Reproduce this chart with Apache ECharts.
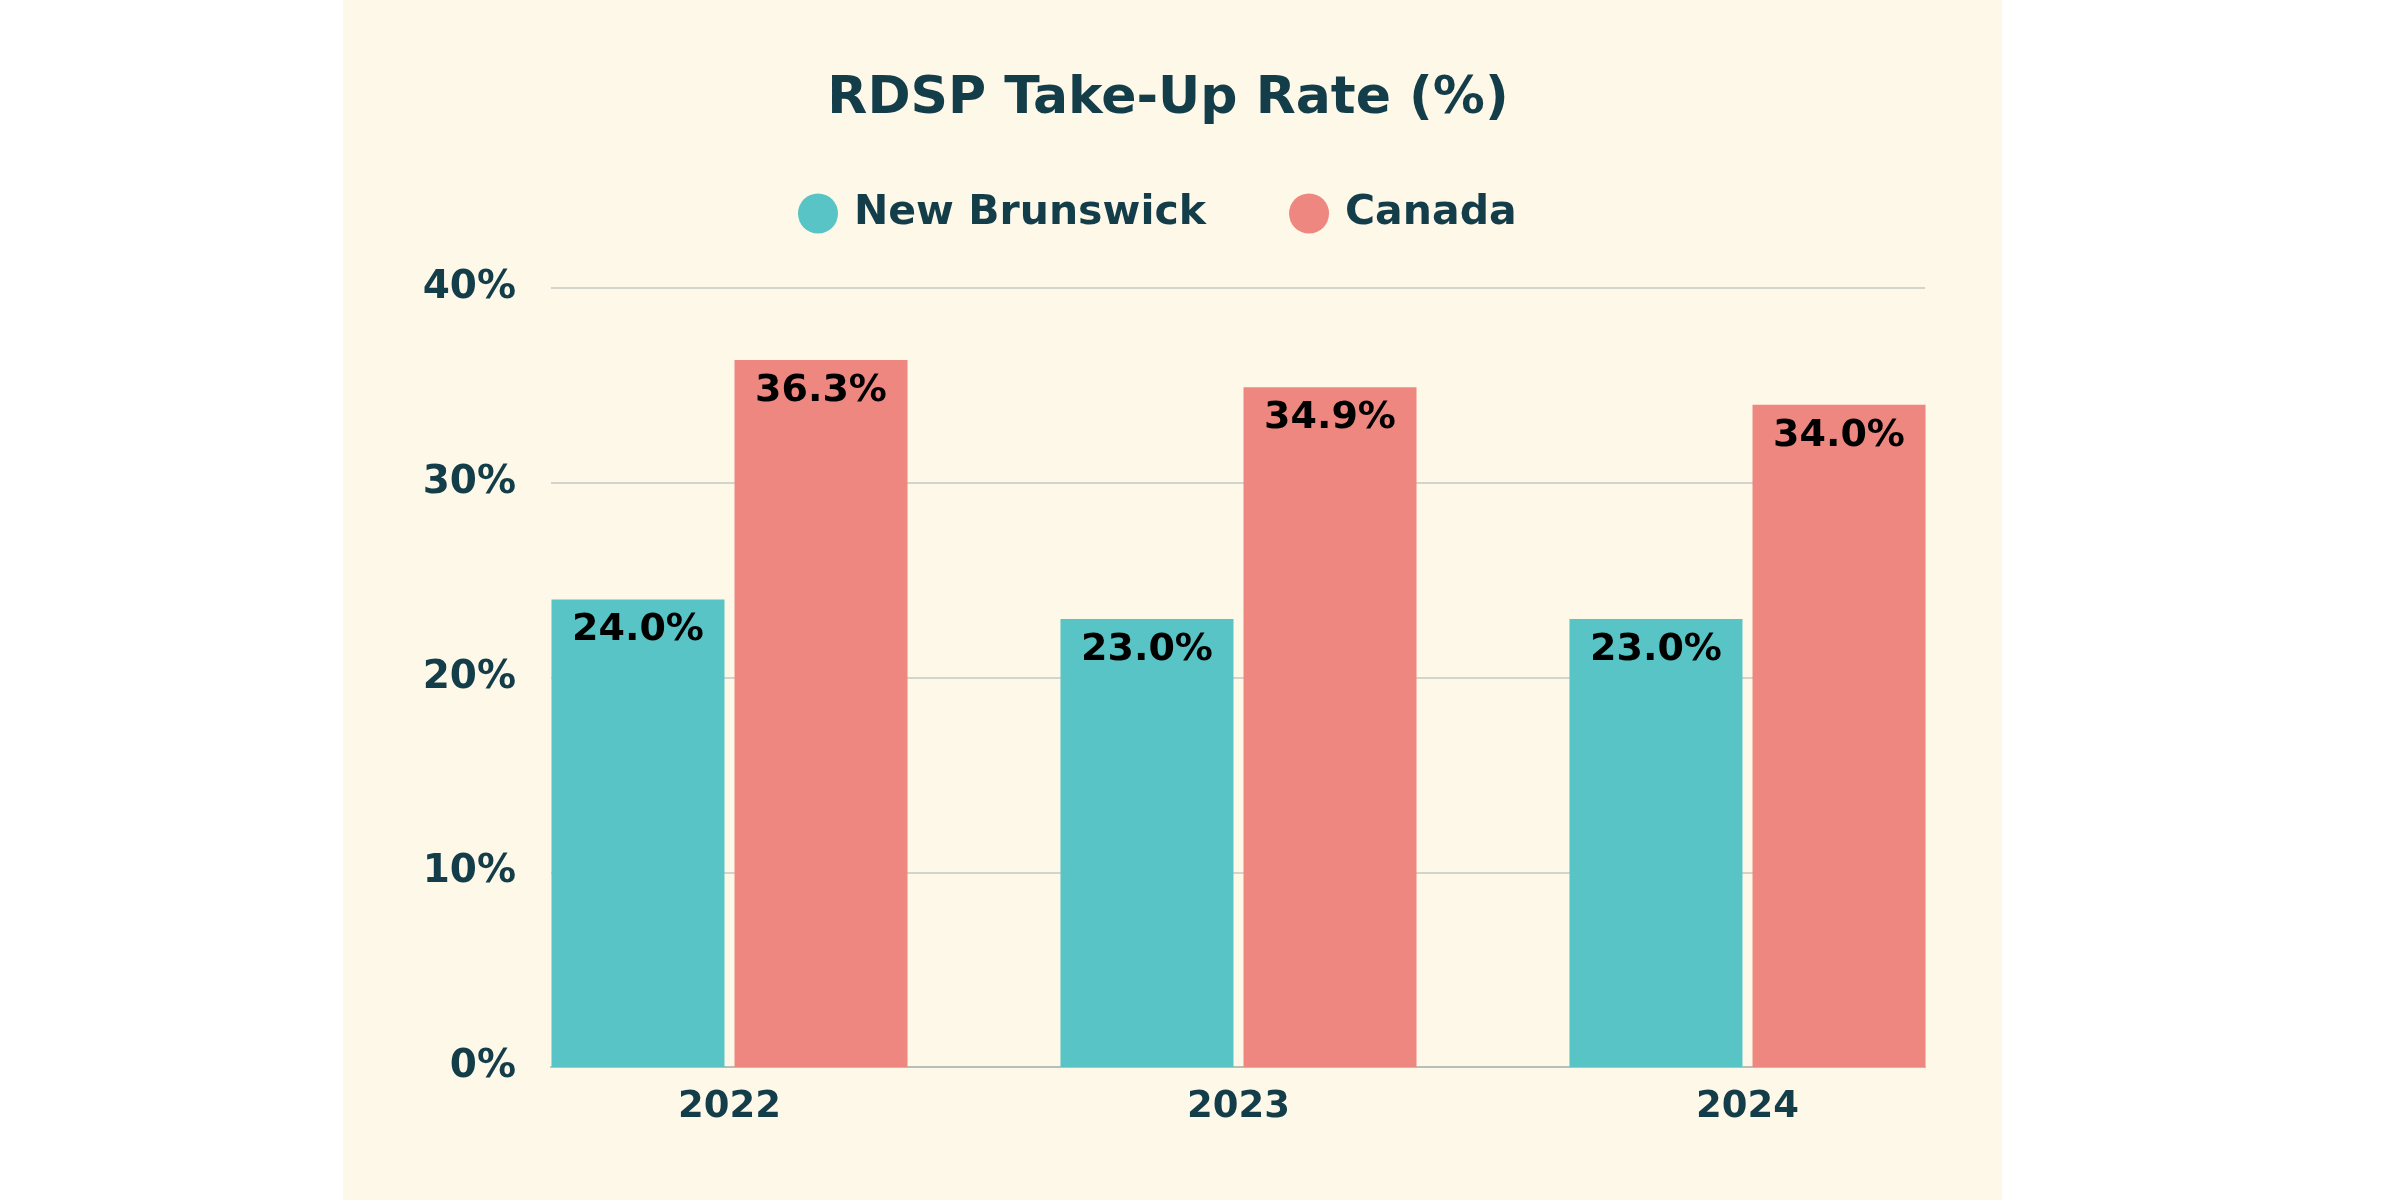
<!DOCTYPE html>
<html>
<head>
<meta charset="utf-8">
<script src="https://cdn.jsdelivr.net/npm/echarts@6/dist/echarts.min.js"></script>
<style>
html,body{margin:0;padding:0;background:#ffffff;}
#chart{width:2400px;height:1200px;}
</style>
</head>
<body>
<div id="chart"></div>
<script>
const years = ['2022', '2023', '2024'];
const newBrunswick = [24.0, 23.0, 23.0];
const canada = [36.3, 34.9, 34.0];
const seriesNames = ['New Brunswick', 'Canada'];
const yTicks = { min: 0, max: 40, interval: 10 };

const FONT = 'DejaVu Sans';
const DARK = '#143D4A';
const TEAL = '#58C4C5';
const SALMON = '#EE8780';

const chart = echarts.init(document.getElementById('chart'), null, { renderer: 'canvas' });
chart.setOption({
  backgroundColor: '#ffffff',
  animation: false,
  textStyle: { fontFamily: FONT },
  graphic: [{
    type: 'rect', z: -10, silent: true,
    shape: { x: 343, y: 0, width: 1659, height: 1200 },
    style: { fill: '#FEF8E8' }
  }],
  title: {
    text: 'RDSP Take-Up Rate (%)',
    left: 1163, top: 68, textAlign: 'center',
    textStyle: { fontFamily: FONT, fontWeight: 'bold', fontSize: 52, color: DARK }
  },
  legend: {
    data: seriesNames,
    left: 793, top: 188,
    icon: 'circle', itemWidth: 40, itemHeight: 40, itemGap: 83,
    textStyle: { fontFamily: FONT, fontWeight: 'bold', fontSize: 41, color: DARK, padding: [0, 0, 0, 11] }
  },
  grid: [
    { left: 551, right: 2400 - 1925, top: 288, bottom: 1200 - 1067, containLabel: false },
    { left: 475, right: 2400 - 2002, top: 288, bottom: 1200 - 1067, containLabel: false }
  ],
  xAxis: [
    { type: 'category', gridIndex: 0, data: years, boundaryGap: true,
      axisLine: { show: true, lineStyle: { color: '#B9BFB8', width: 2 } },
      axisTick: { show: false }, axisLabel: { show: false }, splitLine: { show: false } },
    { type: 'category', gridIndex: 1, data: years, boundaryGap: true,
      axisLine: { show: false }, axisTick: { show: false },
      axisLabel: { margin: 22, fontFamily: FONT, fontWeight: 'bold', fontSize: 37, color: DARK } }
  ],
  yAxis: [
    { type: 'value', gridIndex: 0, min: yTicks.min, max: yTicks.max, interval: yTicks.interval,
      axisLine: { show: false }, axisTick: { show: false },
      axisLabel: { margin: 35, fontFamily: FONT, fontWeight: 'bold', fontSize: 39, color: DARK, formatter: '{value}%' },
      splitLine: { show: true, lineStyle: { color: '#D3D5CC', width: 2 } } },
    { type: 'value', gridIndex: 1, min: yTicks.min, max: yTicks.max, interval: yTicks.interval,
      show: false, splitLine: { show: false } }
  ],
  series: [
    { name: seriesNames[0], type: 'bar', xAxisIndex: 1, yAxisIndex: 1, data: newBrunswick,
      barWidth: 173, barGap: '5.8%', itemStyle: { color: TEAL },
      label: { show: true, position: 'insideTop', distance: 12, formatter: p => p.value.toFixed(1) + '%',
        fontFamily: FONT, fontWeight: 'bold', fontSize: 38, color: '#000000' } },
    { name: seriesNames[1], type: 'bar', xAxisIndex: 1, yAxisIndex: 1, data: canada,
      barWidth: 173, barGap: '5.8%', itemStyle: { color: SALMON },
      label: { show: true, position: 'insideTop', distance: 12, formatter: p => p.value.toFixed(1) + '%',
        fontFamily: FONT, fontWeight: 'bold', fontSize: 38, color: '#000000' } }
  ]
});
</script>
</body>
</html>
